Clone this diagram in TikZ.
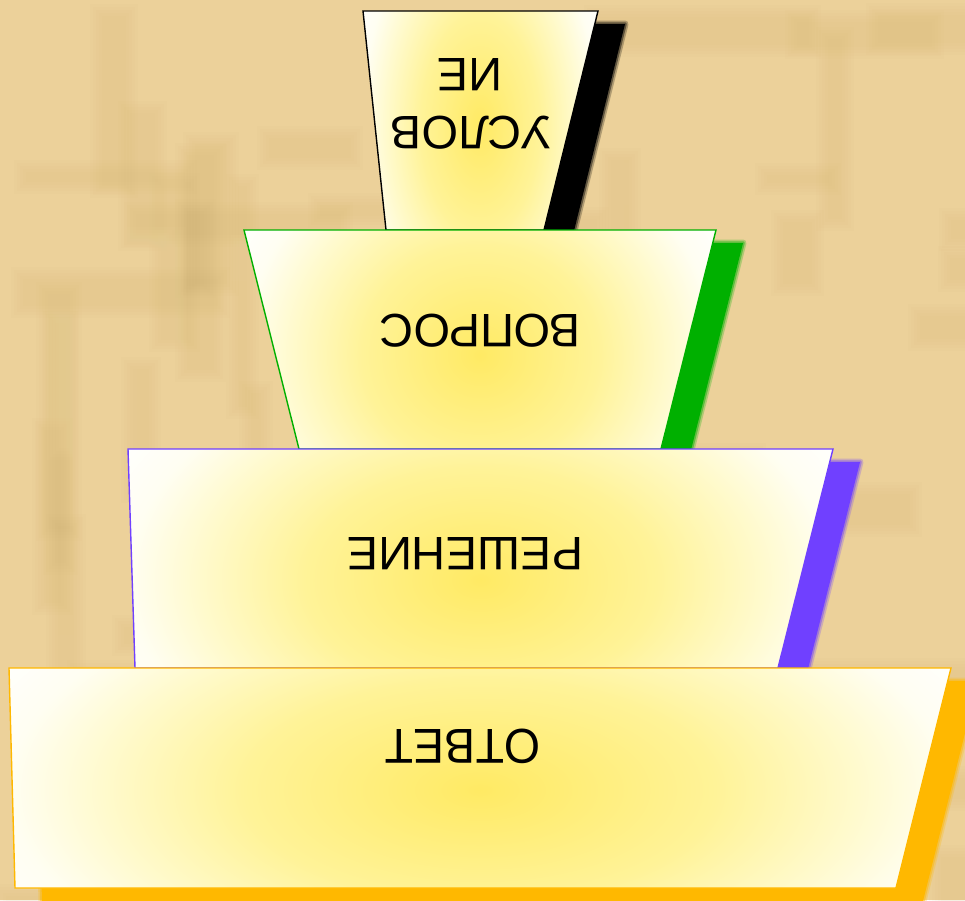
\documentclass[tikz,border=0pt]{standalone}
\usepackage{fontspec}
\setmainfont{Liberation Sans}
\definecolor{bgtan}{RGB}{236,209,154}
\definecolor{bgdark}{RGB}{212,180,116}
\definecolor{bglight}{RGB}{250,224,168}
\definecolor{ycen}{RGB}{255,234,100}
\definecolor{ymid}{RGB}{255,243,152}
\definecolor{ypale}{RGB}{255,250,205}
\definecolor{yedge}{RGB}{255,254,242}
\definecolor{cgreen}{RGB}{0,176,0}
\definecolor{cpurple}{RGB}{112,64,255}
\definecolor{corange}{RGB}{255,184,0}
\pgfdeclareradialshading{pyr}{\pgfpoint{0bp}{0bp}}{color(0bp)=(ycen); color(12.5bp)=(ymid); color(20bp)=(ypale); color(25bp)=(yedge); color(30bp)=(white); color(50bp)=(white)}
\tikzset{
  lbl/.style={rotate=180, anchor=base, inner sep=0pt, text=black},
  edge1/.style={line width=1.4pt, line join=miter},
}
\newcommand{\mkshadow}[2]{%
  \begin{scope}[shift={(27,13)}]
    \fill[#1] #2;
    \draw[#1, line width=7pt, opacity=.25, line join=round] #2;
    \draw[#1, line width=3.5pt, opacity=.45, line join=round] #2;
  \end{scope}}
\begin{document}
\begin{tikzpicture}[x=1pt,y=-1pt]
\useasboundingbox (0,0) rectangle (965,900);
\fill[bgtan] (0,0) rectangle (965,900);
% paper texture
\pgfmathsetseed{11}
\foreach \i in {1,...,70}{
  \pgfmathsetmacro\px{rnd*965}
  \pgfmathsetmacro\py{rnd*900}
  \pgfmathsetmacro\pw{8+rnd*30}
  \pgfmathsetmacro\ph{60+rnd*200}
  \pgfmathsetmacro\pc{rnd}
  \ifdim\pc pt<0.5pt \def\pcol{bgdark}\else\def\pcol{bglight}\fi
  \foreach \g in {0,3,6,9,12}{
    \fill[\pcol, opacity=.045] (\px-\g,\py-\g) rectangle (\px+\pw+\g,\py+\ph+\g);
  }
}
\foreach \i in {1,...,50}{
  \pgfmathsetmacro\px{rnd*965}
  \pgfmathsetmacro\py{rnd*900}
  \pgfmathsetmacro\pw{60+rnd*200}
  \pgfmathsetmacro\ph{8+rnd*25}
  \pgfmathsetmacro\pc{rnd}
  \ifdim\pc pt<0.5pt \def\pcol{bgdark}\else\def\pcol{bglight}\fi
  \foreach \g in {0,3,6,9,12}{
    \fill[\pcol, opacity=.045] (\px-\g,\py-\g) rectangle (\px+\pw+\g,\py+\ph+\g);
  }
}
% tier 1
\def\pA{(363,11) -- (598,11) -- (544,230) -- (386,230) -- cycle}
\mkshadow{black}{\pA}
\begin{scope}\clip \pA; \shade[shading=pyr] (362,-95) rectangle (598,345); \end{scope}
\draw[edge1, black] \pA;
% tier 2
\def\pB{(244,230) -- (716,230) -- (661,449) -- (299,449) -- cycle}
\mkshadow{cgreen}{\pB}
\begin{scope}\clip \pB; \shade[shading=pyr] (244,135) rectangle (716,575); \end{scope}
\draw[edge1, cgreen] \pB;
% tier 3
\def\pC{(128,449) -- (833,449) -- (778,668) -- (135,668) -- cycle}
\mkshadow{cpurple}{\pC}
\begin{scope}\clip \pC; \shade[shading=pyr] (128,355) rectangle (833,805); \end{scope}
\draw[edge1, cpurple] \pC;
% tier 4
\def\pD{(9,668) -- (951,668) -- (896,888) -- (15,888) -- cycle}
\mkshadow{corange}{\pD}
\begin{scope}\clip \pD; \shade[shading=pyr] (9,570) rectangle (951,1010); \end{scope}
\draw[edge1, corange] \pD;
% labels
\node[lbl, font=\fontsize{47}{50}\selectfont] (l1a) at (470,58) {ИЕ};
\node[lbl, font=\fontsize{47}{50}\selectfont] (l1b) at (471,116) {УСЛОВ};
\node[lbl, font=\fontsize{47}{50}\selectfont] (l2) at (480,314) {ВОПРОС};
\node[lbl, font=\fontsize{47}{50}\selectfont] (l3) at (465,537) {РЕШЕНИЕ};
\node[lbl, xscale=0.95, font=\fontsize{49}{52}\selectfont] (l4) at (463,729) {ОТВЕТ};
\end{tikzpicture}
\end{document}
